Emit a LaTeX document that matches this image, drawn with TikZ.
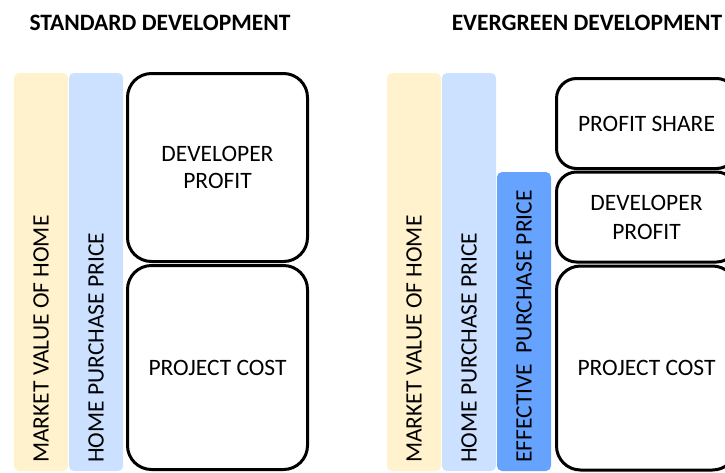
\documentclass[tikz,border=0pt]{standalone}
\usepackage{fontspec}
\setmainfont{Carlito}
\usetikzlibrary{positioning}
\definecolor{mvyellow}{RGB}{255,242,204}
\definecolor{hpblue}{RGB}{204,224,255}
\definecolor{epblue}{RGB}{102,163,255}

\begin{document}
\begin{tikzpicture}[x=1pt, y=-1pt, node distance=1pt,
    every node/.style={align=center, font=\fontsize{23.5}{27}\selectfont},
    bar/.style={rounded corners=5pt, minimum width=54pt, inner sep=0pt, outer sep=0pt},
    barlabel/.style={rotate=90, anchor=west, inner sep=0pt},
    stack/.style={draw, line width=3pt, rounded corners=24pt, minimum width=180pt, inner sep=0pt, outer sep=0pt, anchor=north west},
    heading/.style={font=\fontsize{23.5}{27}\selectfont\bfseries}]
    \useasboundingbox (0,0) rectangle (725,472);
    \clip (0,0) rectangle (725,472);

    % standard development
    \node[heading] (stdtitle) at (160,23) {STANDARD DEVELOPMENT};
    \node[bar, fill=mvyellow, minimum height=398pt, anchor=north west] (mvA) at (14,73) {};
    \node[bar, fill=hpblue, minimum height=398pt, right=1pt of mvA.north east, anchor=north west] (hpA) {};
    \node[barlabel] at ([yshift=8pt]mvA.south) {MARKET VALUE OF HOME};
    \node[barlabel] at ([yshift=8pt]hpA.south) {HOME PURCHASE PRICE};

    \node[stack, minimum height=188pt] (devA) at (127.5,73.5) {DEVELOPER\\PROFIT};
    \node[stack, minimum height=204pt, below=4pt of devA.south west, anchor=north west] (costA) {PROJECT COST};

    % evergreen development
    \node[heading] (evgtitle) at (587,23) {EVERGREEN DEVELOPMENT};
    \node[bar, fill=mvyellow, minimum height=398pt, anchor=north west] (mvB) at (387,73) {};
    \node[bar, fill=hpblue, minimum height=398pt, right=1pt of mvB.north east, anchor=north west] (hpB) {};
    \node[bar, fill=epblue, minimum height=299pt, right=1pt of hpB.south east, anchor=south west] (epB) {};
    \node[barlabel] at ([yshift=8pt]mvB.south) {MARKET VALUE OF HOME};
    \node[barlabel] at ([yshift=8pt]hpB.south) {HOME PURCHASE PRICE};
    \node[barlabel] at ([yshift=8pt]epB.south) {EFFECTIVE\ \ PURCHASE PRICE};

    \node[stack, minimum height=90pt, rounded corners=20pt] (shareB) at (556.5,78.5) {PROFIT SHARE};
    \node[stack, minimum height=90pt, rounded corners=20pt, below=3.5pt of shareB.south west, anchor=north west,
      font=\fontsize{23.5}{29}\selectfont] (devB) {DEVELOPER\\PROFIT};
    \node[stack, minimum height=204pt, below=4pt of devB.south west, anchor=north west] (costB) {PROJECT COST};
\end{tikzpicture}
\end{document}
